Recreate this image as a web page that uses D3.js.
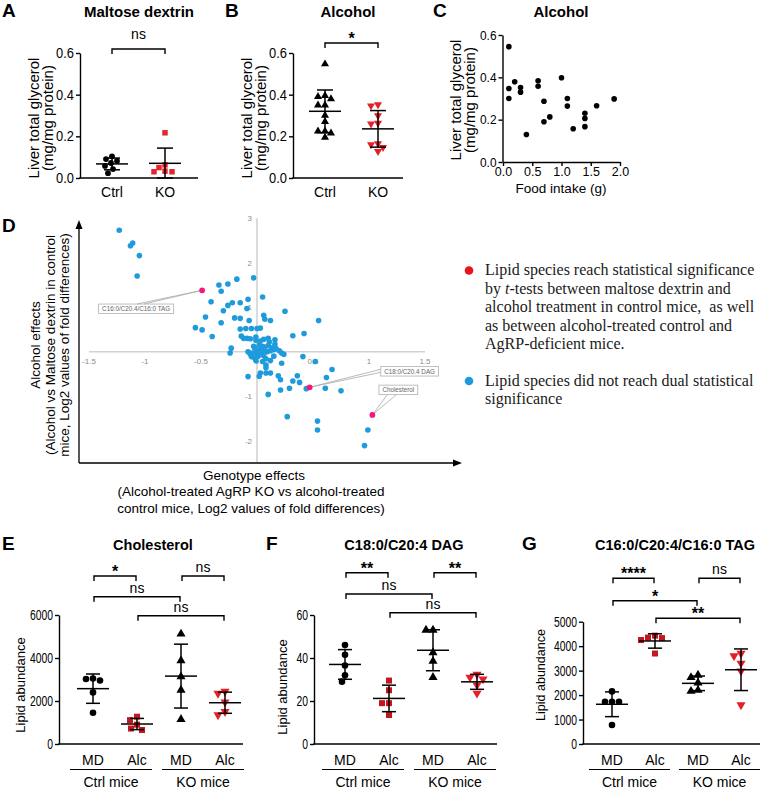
<!DOCTYPE html>
<html>
<head>
<meta charset="utf-8">
<script src="https://d3js.org/d3.v7.min.js"></script>
<style>
body { margin: 0; background: #fff; }
</style>
</head>
<body>
<div id="chart"></div>
<script>
/*global d3 */
"use strict";

////////////////////////////////////////
// values
////////////////////////////////////////

var glycerolGroups = ["Ctrl", "KO"],
    glycerolTicks = [0, 0.2, 0.4, 0.6],
    maltoseCtrl = [0.104, 0.091, 0.082, 0.072, 0.058, 0.043, 0.023],
    maltoseKO = [0.217, 0.063, 0.05, 0.033, 0.03, 0.03],
    alcoholCtrl = [0.547, 0.395, 0.39, 0.38, 0.35, 0.35, 0.30, 0.27,
                   0.225, 0.225, 0.215, 0.195],
    alcoholKO = [0.352, 0.347, 0.30, 0.264, 0.26, 0.165, 0.16, 0.147, 0.128];

var intakeTicks = [0, 0.5, 1.0, 1.5, 2.0],
    intakeFood = [0.1, 0.1, 0.1, 0.2, 0.3, 0.3, 0.4, 0.6, 0.6, 0.7, 0.7,
                  0.8, 1.0, 1.1, 1.1, 1.2, 1.4, 1.4, 1.4, 1.6, 1.9],
    intakeGlycerol = [0.545, 0.347, 0.30, 0.379, 0.352, 0.33, 0.13, 0.384,
                      0.358, 0.287, 0.19, 0.213, 0.398, 0.30, 0.264, 0.157,
                      0.23, 0.206, 0.167, 0.266, 0.298];

// [genotype effect, alcohol effect], log2 fold differences
var lipidEffects = [
    [-1.23, 2.73], [-1.13, 2.38], [-1.11, 2.44], [-1.05, 2.16], [-1.07, 1.70],
    [-0.34, 1.50], [-0.26, 1.52], [-0.18, 1.63], [-0.03, 1.66], [-0.32, 1.36],
    [-0.41, 1.12], [-0.30, 0.92], [-0.26, 1.04], [-0.22, 1.10], [-0.15, 1.10],
    [-0.08, 1.18], [-0.09, 0.97], [0.05, 1.23], [0.25, 0.91],
    [-0.46, 0.78], [-0.20, 0.76], [-0.15, 0.75], [-0.32, 0.65], [-0.07, 0.70],
    [0.06, 0.82], [0.07, 0.73], [0.12, 0.70], [0.55, 0.70],
    [-0.55, 0.54], [-0.49, 0.49], [-0.40, 0.34],
    [-0.15, 0.51], [-0.10, 0.52], [-0.05, 0.52], [0.00, 0.52], [0.03, 0.53],
    [-0.14, 0.35], [-0.12, 0.30], [-0.09, 0.30], [-0.06, 0.29], [-0.01, 0.33],
    [-0.01, 0.26], [0.03, 0.24], [0.06, 0.28], [0.10, 0.30], [0.11, 0.22],
    [0.16, 0.27], [0.16, 0.17], [0.10, 0.14], [0.13, 0.09], [0.17, 0.07],
    [0.20, 0.02], [0.22, -0.03], [0.24, -0.06], [-0.23, 0.08], [-0.24, -0.03],
    [-0.08, 0.00], [-0.06, -0.05], [-0.04, -0.03], [0.00, 0.03], [0.03, 0.05],
    [0.06, 0.03], [0.09, 0.00], [0.02, 0.15], [0.05, 0.12], [-0.02, 0.08],
    [0.04, -0.02], [0.07, 0.10], [0.00, -0.05], [-0.03, 0.12], [0.12, 0.02],
    [0.15, 0.05], [-0.05, -0.11], [-0.02, -0.14], [0.01, -0.10], [0.06, -0.09],
    [0.08, -0.16], [0.12, -0.20], [0.05, -0.22], [-0.01, -0.20], [0.15, -0.10],
    [0.08, -0.30], [0.08, -0.36], [0.08, -0.48], [0.12, -0.48], [0.03, -0.48],
    [0.02, -0.55], [-0.08, -0.56], [0.10, -0.96], [0.19, -0.54], [0.21, -0.63],
    [0.21, -0.86], [0.29, -0.82], [0.22, -0.26], [0.32, 0.36], [0.42, 0.41],
    [0.41, -0.11], [0.36, -0.54], [0.32, -0.66], [0.38, -0.69], [0.44, -0.83],
    [0.52, -0.22], [0.61, -0.82], [0.62, -0.58], [0.67, -0.40], [0.75, -0.88],
    [0.27, -1.46], [0.54, -1.56], [0.54, -1.76], [0.99, -1.76], [0.96, -2.11]],
    lipidHits = [[-0.49, 1.38], [0.47, -0.80], [1.03, -1.42]],
    lipidHitNames = ["C16:0/C20.4/C16:0 TAG", "C18:0/C20.4 DAG", "Cholesterol"],
    effectTicksX = [-1.5, -1, -0.5, 0, 0.5, 1, 1.5],
    effectTicksY = [-2, -1, 0, 1, 2, 3];

var treatNames = ["MD", "Alc", "MD", "Alc"],
    mouseNames = ["Ctrl mice", "KO mice"],
    cholesterolTicks = [0, 2000, 4000, 6000],
    cholesterolValues = [[3050, 3020, 2950, 2400, 1450],
                         [1270, 1110, 900, 720, 650],
                         [5120, 3880, 3130, 2510, 1150],
                         [2450, 2350, 1950, 1500, 1350]],
    cholesterolSig = ["*", "ns", "ns", "ns"],
    dagTicks = [0, 20, 40, 60],
    dagValues = [[46, 41.5, 36.5, 32, 29],
                 [29.5, 25, 19, 19, 13.5],
                 [53, 53, 42.5, 38.5, 31],
                 [32.4, 31, 30.2, 27.4, 23.6]],
    dagSig = ["**", "**", "ns", "ns"],
    tagTicks = [0, 1000, 2000, 3000, 4000, 5000],
    tagValues = [[2150, 1730, 1730, 1730, 780],
                 [4430, 4350, 4330, 4250, 3700],
                 [2820, 2720, 2500, 2200, 2160],
                 [3700, 3600, 3300, 2980, 1600]],
    tagSig = ["****", "ns", "*", "**"];


////////////////////////////////////////
// drawing helpers
////////////////////////////////////////

var sans = "'Liberation Sans', Arial, Helvetica, sans-serif",
    serif = "'Liberation Serif', 'Times New Roman', serif",
    svg = d3.select("#chart").append("svg")
        .attr("width", 760).attr("height", 790)
        .style("font-family", sans),
    shapes = {circle: d3.symbolCircle, square: d3.symbolSquare,
              up: d3.symbolTriangle, down: d3.symbolTriangle};

svg.append("rect").attr("width", 760).attr("height", 790).attr("fill", "#fff");

function txt(g, str, x, y, size, anchor, weight, family) {
    return g.append("text")
        .attr("x", x).attr("y", y)
        .attr("font-size", size)
        .attr("font-family", family || sans)
        .attr("font-weight", weight || "normal")
        .attr("text-anchor", anchor || "start")
        .attr("fill", "#000")
        .text(str);
}

function vtxt(g, str, x, y, size) {
    return g.append("text")
        .attr("transform", "translate(" + x + "," + y + ") rotate(-90)")
        .attr("font-size", size)
        .attr("text-anchor", "middle")
        .text(str);
}

function line(g, x1, y1, x2, y2, color, width) {
    return g.append("line")
        .attr("x1", x1).attr("y1", y1).attr("x2", x2).attr("y2", y2)
        .attr("stroke", color || "#000")
        .attr("stroke-width", width || 1.4);
}

function letter(str, x, y) {
    txt(svg, str, x, y, 19, "start", "bold");
}

//squeeze = horizontal factor for the condensed Prism numbers
function yAxis(g, y, x, ticks, fmt, size, squeeze) {
    var ax = g.append("g").attr("transform", "translate(" + x + ",0)")
        .call(d3.axisLeft(y).tickValues(ticks).tickFormat(fmt)
              .tickSize(4).tickSizeOuter(0).tickPadding(2));
    ax.select(".domain").attr("stroke-width", 1.4);
    ax.selectAll(".tick line").attr("stroke-width", 1.4);
    ax.selectAll(".tick text").attr("font-size", size)
        .attr("font-family", sans).attr("fill", "#000")
        .each(function () {
            if(squeeze) {
                d3.select(this)
                    .attr("textLength", this.getComputedTextLength() * squeeze)
                    .attr("lengthAdjust", "spacingAndGlyphs"); } });
    return ax;
}

//place the points of one column side by side, Prism style
function swarm(values, y, r) {
    var placed = [];
    values.slice().sort(d3.descending).forEach(function (v) {
        var py = y(v), k = 0, dx, fits;
        do {
            dx = (k % 2 ? -1 : 1) * Math.ceil(k / 2);
            fits = placed.every(function (p) {
                return Math.hypot(p.dx - dx, p.py - py) >= 2 * r + 0.6; });
            k += 1;
        } while (!fits);
        placed.push({v: v, dx: dx, py: py}); });
    return placed;
}

function marker(g, kind, x, y, size, color) {
    g.append("path")
        .attr("d", d3.symbol().type(shapes[kind]).size(size)())
        .attr("transform", "translate(" + x + "," + y + ")" +
              (kind === "down" ? " rotate(180)" : ""))
        .attr("fill", color);
}

function dotColumn(g, values, cx, y, kind, color, r, size, halfMean, halfCap) {
    var m = d3.mean(values), sd = d3.deviation(values),
        lo = y(Math.max(y.domain()[0], m - sd)), hi = y(m + sd);
    swarm(values, y, r).forEach(function (p) {
        marker(g, kind, cx + p.dx, p.py, size, color); });
    line(g, cx, hi, cx, lo, "#000", 1.5);
    line(g, cx - halfCap, hi, cx + halfCap, hi, "#000", 1.5);
    line(g, cx - halfCap, lo, cx + halfCap, lo, "#000", 1.5);
    line(g, cx - halfMean, y(m), cx + halfMean, y(m), "#000", 1.5);
}

function bracket(g, x1, x2, y, label, nsGap) {
    var stars = label.indexOf("*") >= 0;
    g.append("path")
        .attr("d", "M" + x1 + "," + (y + 5) + "V" + y + "H" + x2 + "V" + (y + 5))
        .attr("fill", "none").attr("stroke", "#000").attr("stroke-width", 1.4);
    txt(g, label, (x1 + x2) / 2, stars ? y + 1 : y - nsGap,
        stars ? 16 : 14, "middle", stars ? "bold" : "normal");
}


////////////////////////////////////////
// panels A and B: liver glycerol dot plots
////////////////////////////////////////

function glycerolPanel(cfg) {
    var g = svg.append("g"),
        y = d3.scaleLinear().domain([0, 0.6]).range([178, 53]),
        x = d3.scalePoint().domain(glycerolGroups).range(cfg.pos);
    letter(cfg.letter, cfg.letterX, 17);
    txt(g, cfg.title, (cfg.left + cfg.right) / 2, 17, 15, "middle", "bold");
    vtxt(g, "Liver total glycerol", cfg.left - 41, 118, 15);
    vtxt(g, "(mg/mg protein)", cfg.left - 27, 118, 15);
    yAxis(g, y, cfg.left, glycerolTicks, d3.format(".1f"), 14, 0.92);
    line(g, cfg.left - 0.7, 178, cfg.right, 178);
    cfg.sets.forEach(function (s, i) {
        var cx = x(glycerolGroups[i]);
        dotColumn(g, s.values, cx, y, s.kind, s.color, 2.8, s.size, 16, 8);
        txt(g, glycerolGroups[i], cx, 197, 14, "middle"); });
    bracket(g, x("Ctrl"), x("KO"), cfg.sigY, cfg.sig, 10);
}

glycerolPanel({letter: "A", letterX: 2, title: "Maltose dextrin",
               left: 80, right: 198, pos: [112, 165], sig: "ns", sigY: 49,
               sets: [{values: maltoseCtrl, kind: "circle", color: "#000", size: 26},
                      {values: maltoseKO, kind: "square", color: "#e3262d", size: 30}]});

glycerolPanel({letter: "B", letterX: 225, title: "Alcohol",
               left: 293, right: 403, pos: [325, 378], sig: "*", sigY: 43,
               sets: [{values: alcoholCtrl, kind: "up", color: "#000", size: 28},
                      {values: alcoholKO, kind: "down", color: "#e3202a", size: 28}]});


////////////////////////////////////////
// panel C: glycerol against food intake
////////////////////////////////////////

(function () {
    var g = svg.append("g"),
        x = d3.scaleLinear().domain([0, 2]).range([503, 620]),
        y = d3.scaleLinear().domain([0, 0.6]).range([162, 35]),
        ax;
    letter("C", 433, 17);
    txt(g, "Alcohol", 561, 17, 15, "middle", "bold");
    vtxt(g, "Liver total glycerol", 461, 100, 15);
    vtxt(g, "(mg/mg protein)", 475, 100, 15);
    yAxis(g, y, 502.5, glycerolTicks, d3.format(".1f"), 12.5, 0.95);
    ax = g.append("g").attr("transform", "translate(0,162)")
        .call(d3.axisBottom(x).tickValues(intakeTicks).tickFormat(d3.format(".1f"))
              .tickSize(4).tickSizeOuter(0).tickPadding(1));
    ax.select(".domain").attr("stroke-width", 1.4);
    ax.selectAll(".tick line").attr("stroke-width", 1.4);
    ax.selectAll(".tick text").attr("font-size", 12.5)
        .attr("font-family", sans).attr("fill", "#000");
    txt(g, "Food intake (g)", 561, 193, 13.5, "middle");
    intakeFood.forEach(function (f, i) {
        g.append("circle").attr("cx", x(f)).attr("cy", y(intakeGlycerol[i]))
            .attr("r", 2.8).attr("fill", "#000"); });
}());


////////////////////////////////////////
// panel D: alcohol effect against genotype effect
////////////////////////////////////////

(function () {
    var g = svg.append("g"),
        x = d3.scaleLinear().domain([-1.5, 1.5]).range([89, 425]),
        y = d3.scaleLinear().domain([-2, 3]).range([440.7, 218.2]),
        grey = "#d2d2d2",
        callouts = [{dx: -66, dy: 18.5, side: "top"},
                    {dx: 100, dy: -16, side: "left"},
                    {dx: 26, dy: -25, side: "bottom"}],
        legendHit = ["Lipid species reach statistical significance",
                     null,
                     "alcohol treatment in control mice,  as well",
                     "as between alcohol-treated control and",
                     "AgRP-deficient mice."],
        legendRest = ["Lipid species did not reach dual statistical",
                      "significance"],
        ink = "#1a1a1a",
        t;
    letter("D", 2, 232);

    //excel style cross through the origin
    line(g, x(-1.5), y(0), x(1.5), y(0), grey, 1.6);
    line(g, x(0), y(3), x(0), 462, grey, 1.6);
    effectTicksX.forEach(function (v) {
        txt(g, String(v), x(v), y(0) + 12, 8, "middle").attr("fill", "#8c8c8c"); });
    effectTicksY.forEach(function (v) {
        txt(g, String(v), x(0) - 5, y(v) + 3, 8, "end").attr("fill", "#8c8c8c"); });

    //black arrows framing the plot
    g.append("path").attr("d", "M79,463V227M79,463H455")
        .attr("fill", "none").attr("stroke", "#000").attr("stroke-width", 1.3);
    g.append("path").attr("d", "M79,220L75.5,229L82.5,229Z").attr("fill", "#000");
    g.append("path").attr("d", "M462,463L453,459.5L453,466.5Z").attr("fill", "#000");

    //callout boxes for the three hits
    lipidHits.forEach(function (p, i) {
        var px = x(p[0]), py = y(p[1]), c = callouts[i],
            cx = px + c.dx, cy = py + c.dy, label, w, h = 9.5, a;
        label = txt(g, lipidHitNames[i], cx, cy + 2.3, 6.3, "middle")
            .attr("fill", "#666");
        w = label.node().getComputedTextLength() + 7;
        g.insert("rect", "text:last-child")
            .attr("x", cx - w / 2).attr("y", cy - h / 2)
            .attr("width", w).attr("height", h)
            .attr("fill", "#fff").attr("stroke", "#b0b0b0").attr("stroke-width", 0.8);
        if(c.side === "top") {
            a = [[cx + 1, cy - h / 2], [cx + 8, cy - h / 2]]; }
        else if(c.side === "left") {
            a = [[cx - w / 2, cy - 2], [cx - w / 2, cy + 1]]; }
        else {
            a = [[cx - 11, cy + h / 2], [cx - 2, cy + h / 2]]; }
        g.append("path")
            .attr("d", "M" + a[0] + "L" + px + "," + py + "L" + a[1])
            .attr("fill", "none").attr("stroke", "#a8a8a8").attr("stroke-width", 0.8);
        label.raise(); });

    lipidEffects.forEach(function (p) {
        g.append("circle").attr("cx", x(p[0])).attr("cy", y(p[1]))
            .attr("r", 2.8).attr("fill", "#1f9bdc"); });
    lipidHits.forEach(function (p) {
        g.append("circle").attr("cx", x(p[0])).attr("cy", y(p[1]))
            .attr("r", 2.9).attr("fill", "#f8157a"); });

    //axis titles
    vtxt(g, "Alcohol effects", 40, 345, 13.5);
    vtxt(g, "(Alcohol vs Maltose dextrin in control", 54.5, 345, 13.5);
    vtxt(g, "mice, Log2 values of fold differences)", 69, 345, 13.5);
    txt(g, "Genotype effects", 254, 479.5, 13.5, "middle");
    txt(g, "(Alcohol-treated AgRP KO vs alcohol-treated", 251, 496, 13.5, "middle");
    txt(g, "control mice, Log2 values of fold differences)", 251, 512.5, 13.5, "middle");

    //legend
    g.append("circle").attr("cx", 469).attr("cy", 270.5).attr("r", 4.3).attr("fill", "#e8141c");
    g.append("circle").attr("cx", 469).attr("cy", 381).attr("r", 4.3).attr("fill", "#1f9bdc");
    legendHit.forEach(function (s, i) {
        if(s) {
            txt(g, s, 485, 275 + i * 18.6, 16, "start", "normal", serif)
                .attr("fill", ink).style("white-space", "pre"); } });
    t = txt(g, "by ", 485, 293.6, 16, "start", "normal", serif)
        .attr("fill", ink).style("white-space", "pre");
    t.append("tspan").attr("font-style", "italic").text("t");
    t.append("tspan").text("-tests between maltose dextrin and");
    legendRest.forEach(function (s, i) {
        txt(g, s, 485, 385.5 + i * 18.6, 16, "start", "normal", serif).attr("fill", ink); });
}());


////////////////////////////////////////
// panels E, F, G: lipid abundance dot plots
////////////////////////////////////////

function lipidPanel(cfg) {
    var g = svg.append("g"),
        y = d3.scaleLinear().domain([0, d3.max(cfg.ticks)]).range([744, cfg.top]),
        x = d3.scalePoint().domain(d3.range(4)).range(cfg.pos),
        kinds = ["circle", "square", "up", "down"],
        colors = ["#000", "#c4161c", "#000", "#e3202a"],
        sizes = [34, 36, 36, 36],
        pairs = [[0, 1, 0], [2, 3, 0], [0, 2, 1], [1, 3, 2]];
    letter(cfg.letter, cfg.letterX, 550);
    txt(g, cfg.title, cfg.titleX, 550, 14.5, "middle", "bold");
    vtxt(g, "Lipid abundance", cfg.ylabX, cfg.ylabY, cfg.ylabSize);
    yAxis(g, y, cfg.left, cfg.ticks, d3.format("d"), 14, 0.74);
    line(g, cfg.left - 0.7, 744, cfg.right, 744);
    cfg.values.forEach(function (vals, i) {
        dotColumn(g, vals, x(i), y, kinds[i], colors[i], 3.2, sizes[i], 16, 7);
        txt(g, treatNames[i], x(i), 765, 14, "middle"); });
    line(g, x(0) - 23, 769.5, x(1) + 15, 769.5, "#000", 1.2);
    line(g, x(2) - 19, 769.5, x(3) + 19, 769.5, "#000", 1.2);
    txt(g, mouseNames[0], (x(0) + x(1)) / 2 - 4, 786.5, 14, "middle");
    txt(g, mouseNames[1], (x(2) + x(3)) / 2, 786.5, 14, "middle");
    pairs.forEach(function (p, i) {
        bracket(g, x(p[0]) + 1, x(p[1]) - 1, cfg.rows[p[2]], cfg.sig[i], 4); });
}

lipidPanel({letter: "E", letterX: 2, title: "Cholesterol", titleX: 153,
            left: 59, right: 243, top: 615, pos: [93, 225],
            ticks: cholesterolTicks, values: cholesterolValues, sig: cholesterolSig,
            rows: [576, 596.7, 615.7], ylabX: 25, ylabY: 685, ylabSize: 13});

lipidPanel({letter: "F", letterX: 266, title: "C18:0/C20:4 DAG", titleX: 404,
            left: 314, right: 497, top: 615, pos: [345, 477],
            ticks: dagTicks, values: dagValues, sig: dagSig,
            rows: [572.7, 594, 612.7], ylabX: 287, ylabY: 687, ylabSize: 13});

lipidPanel({letter: "G", letterX: 522, title: "C16:0/C20:4/C16:0 TAG", titleX: 675,
            left: 583, right: 760, top: 621.7, pos: [612, 741],
            ticks: tagTicks, values: tagValues, sig: tagSig,
            rows: [578.3, 600.7, 618.3], ylabX: 545, ylabY: 675, ylabSize: 12.5});
</script>
</body>
</html>
